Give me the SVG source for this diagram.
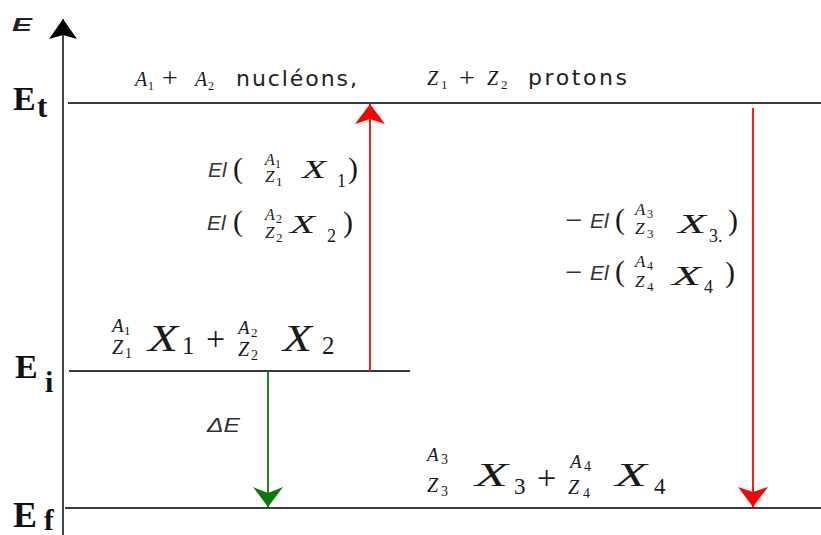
<svg xmlns="http://www.w3.org/2000/svg" width="821" height="535" viewBox="0 0 821 535">
<style>
.m{font-family:"Liberation Serif",serif;font-style:italic;fill:#1a1a1a}
.n{font-family:"Liberation Serif",serif;fill:#1a1a1a}
.s{font-family:"Liberation Sans",sans-serif;font-style:italic;fill:#333}
.t{font-family:"DejaVu Sans",sans-serif;fill:#222}
.lv{font-family:"Liberation Serif",serif;font-weight:bold;fill:#111}
.lvl{stroke:#3a3a3a;stroke-width:2;fill:none}
.ax{stroke:#444;stroke-width:2;fill:none}
.red{stroke:#ff1a1a;stroke-width:2;fill:none}
.grn{stroke:#1a8a1a;stroke-width:2;fill:none}
</style>
<defs>
<marker id="hk" viewBox="0 -15 20 30" refX="20" refY="0" markerWidth="20" markerHeight="30" markerUnits="userSpaceOnUse" orient="auto"><path d="M0,-14 L20,0 L0,14 L4,0 Z" fill="#000"/></marker>
<marker id="hr" viewBox="0 -15 20 30" refX="20" refY="0" markerWidth="20" markerHeight="30" markerUnits="userSpaceOnUse" orient="auto"><path d="M0,-15 L20,0 L0,15 L5,0 Z" fill="#ff0000"/></marker>
<marker id="hg" viewBox="0 -15 20 30" refX="20" refY="0" markerWidth="20" markerHeight="30" markerUnits="userSpaceOnUse" orient="auto"><path d="M0,-15 L20,0 L0,15 L6,0 Z" fill="#0a7a0a"/></marker>
</defs>
<rect width="821" height="535" fill="#fff"/>

<g id="axis">
<text x="12" y="31" font-family="Liberation Sans" font-weight="bold" font-style="italic" font-size="18" textLength="20" lengthAdjust="spacingAndGlyphs" fill="#222">E</text>
</g>

<g id="level-Et">
<line class="lvl" x1="68" y1="103" x2="821" y2="103"/>
<text class="lv" x="13" y="110" font-size="34">E</text>
<text class="lv" x="37" y="117" font-size="31">t</text>
<text class="m" x="135" y="86" font-size="20">A</text><text class="n" x="148" y="90" font-size="12">1</text>
<text class="n" x="162" y="87" font-size="28">+</text>
<text class="m" x="195" y="86" font-size="20">A</text><text class="n" x="208" y="90" font-size="12">2</text>
<text class="t" x="236" y="86" font-size="22" textLength="121" lengthAdjust="spacing">nucléons,</text>
<text class="m" x="427" y="85" font-size="20">Z</text><text class="n" x="441" y="89" font-size="13">1</text>
<text class="n" x="459" y="87" font-size="28">+</text>
<text class="m" x="487" y="85" font-size="20">Z</text><text class="n" x="501" y="89" font-size="13">2</text>
<text class="t" x="528" y="85" font-size="22" textLength="99" lengthAdjust="spacing">protons</text>
</g>

<g id="binding-1">
<text class="s" x="208" y="177" font-size="21">El</text>
<text class="n" x="233" y="178" font-size="30">(</text>
<text class="m" x="265" y="165" font-size="16">A</text><text class="n" x="275" y="168" font-size="12">1</text>
<text class="m" x="265" y="182" font-size="17">Z</text><text class="n" x="276" y="186" font-size="13">1</text>
<text class="m" x="302" y="178" font-size="25" textLength="24" lengthAdjust="spacingAndGlyphs">X</text>
<text class="n" x="337" y="187" font-size="18">1</text>
<text class="n" x="348" y="178" font-size="30">)</text>
<text class="s" x="207" y="230" font-size="21">El</text>
<text class="n" x="233" y="231" font-size="30">(</text>
<text class="m" x="265" y="220" font-size="16">A</text><text class="n" x="276" y="223" font-size="12">2</text>
<text class="m" x="265" y="238" font-size="17">Z</text><text class="n" x="276" y="242" font-size="13">2</text>
<text class="m" x="290" y="233" font-size="25" textLength="25" lengthAdjust="spacingAndGlyphs">X</text>
<text class="n" x="327" y="242" font-size="18">2</text>
<text class="n" x="343" y="232" font-size="30">)</text>
</g>

<g id="binding-2">
<text class="s" x="565" y="227" font-size="21" textLength="17" lengthAdjust="spacingAndGlyphs" font-style="normal">−</text>
<text class="s" x="590" y="228" font-size="21">El</text>
<text class="n" x="615" y="229" font-size="30">(</text>
<text class="m" x="635" y="215" font-size="17">A</text><text class="n" x="647" y="218" font-size="12">3</text>
<text class="m" x="635" y="234" font-size="17">Z</text><text class="n" x="647" y="238" font-size="13">3</text>
<text class="m" x="678" y="233" font-size="27" textLength="28" lengthAdjust="spacingAndGlyphs">X</text>
<text class="n" x="709" y="242" font-size="18">3.</text>
<text class="n" x="728" y="230" font-size="30">)</text>
<text class="s" x="565" y="279" font-size="21" textLength="17" lengthAdjust="spacingAndGlyphs" font-style="normal">−</text>
<text class="s" x="590" y="280" font-size="21">El</text>
<text class="n" x="615" y="281" font-size="30">(</text>
<text class="m" x="635" y="267" font-size="17">A</text><text class="n" x="647" y="270" font-size="12">4</text>
<text class="m" x="635" y="287" font-size="17">Z</text><text class="n" x="647" y="291" font-size="13">4</text>
<text class="m" x="672" y="285" font-size="27" textLength="29" lengthAdjust="spacingAndGlyphs">X</text>
<text class="n" x="704" y="293" font-size="18">4</text>
<text class="n" x="725" y="282" font-size="30">)</text>
</g>

<g id="level-Ei">
<line class="lvl" x1="69" y1="371" x2="410" y2="371"/>
<text class="lv" x="15" y="378" font-size="34">E</text>
<text class="lv" x="45" y="392" font-size="30">i</text>
<text class="m" x="112" y="332" font-size="19">A</text><text class="n" x="124" y="335" font-size="13">1</text>
<text class="m" x="112" y="354" font-size="20">Z</text><text class="n" x="125" y="358" font-size="14">1</text>
<text class="m" x="148" y="351" font-size="38" textLength="30" lengthAdjust="spacingAndGlyphs">X</text>
<text class="n" x="182" y="354" font-size="25">1</text>
<text class="n" x="206" y="350" font-size="34">+</text>
<text class="m" x="238" y="334" font-size="19">A</text><text class="n" x="251" y="337" font-size="13">2</text>
<text class="m" x="238" y="356" font-size="20">Z</text><text class="n" x="251" y="360" font-size="14">2</text>
<text class="m" x="283" y="351" font-size="38" textLength="29" lengthAdjust="spacingAndGlyphs">X</text>
<text class="n" x="322" y="354" font-size="25">2</text>
</g>

<g id="delta-E">
<text class="s" x="207" y="432" font-size="20" textLength="33" lengthAdjust="spacingAndGlyphs">ΔE</text>
</g>

<g id="level-Ef">
<line class="lvl" x1="65" y1="508" x2="821" y2="508"/>
<text class="lv" x="13" y="527" font-size="36">E</text>
<text class="lv" x="44" y="530" font-size="29">f</text>
<text class="m" x="427" y="461" font-size="19">A</text><text class="n" x="441" y="464" font-size="14">3</text>
<text class="m" x="427" y="492" font-size="20">Z</text><text class="n" x="441" y="496" font-size="14">3</text>
<text class="m" x="475" y="486" font-size="33" textLength="33" lengthAdjust="spacingAndGlyphs">X</text>
<text class="n" x="514" y="494" font-size="23">3</text>
<text class="n" x="537" y="489" font-size="34">+</text>
<text class="m" x="570" y="468" font-size="19">A</text><text class="n" x="584" y="471" font-size="14">4</text>
<text class="m" x="568" y="494" font-size="20">Z</text><text class="n" x="583" y="498" font-size="14">4</text>
<text class="m" x="615" y="486" font-size="33" textLength="32" lengthAdjust="spacingAndGlyphs">X</text>
<text class="n" x="654" y="494" font-size="23">4</text>
</g>

<g id="connectors">
<line class="ax" x1="63" y1="535" x2="63" y2="19" marker-end="url(#hk)"/>
<line class="red" x1="370" y1="371" x2="370" y2="104" marker-end="url(#hr)"/>
<line class="grn" x1="268" y1="372" x2="268" y2="507" marker-end="url(#hg)"/>
<line class="red" x1="753" y1="108" x2="753" y2="507" marker-end="url(#hr)"/>
</g>
</svg>
